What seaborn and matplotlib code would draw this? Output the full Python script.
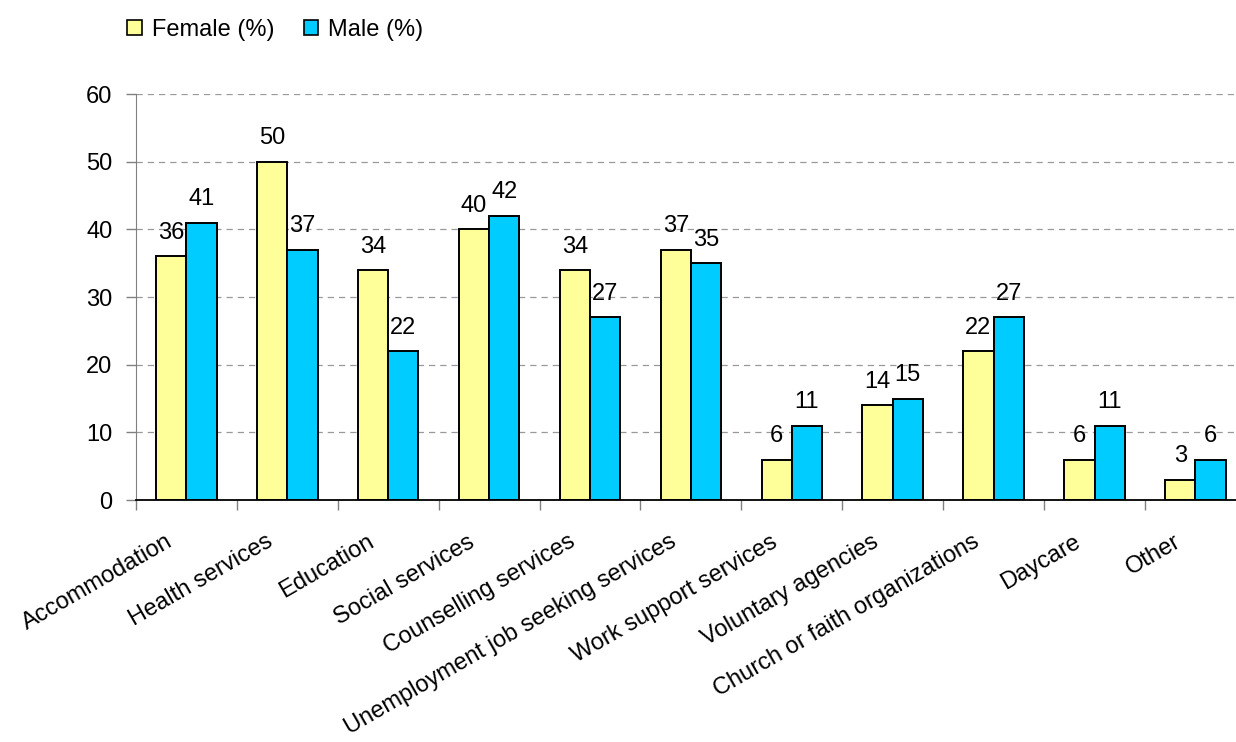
import matplotlib
matplotlib.use("Agg")
import matplotlib.pyplot as plt
from matplotlib.patches import Patch
from matplotlib.transforms import ScaledTranslation
import seaborn as sns
import pandas as pd
import numpy as np

categories = ["Accommodation", "Health services", "Education", "Social services",
              "Counselling services", "Unemployment job seeking services",
              "Work support services", "Voluntary agencies",
              "Church or faith organizations", "Daycare", "Other"]
female = [36, 50, 34, 40, 34, 37, 6, 14, 22, 6, 3]
male = [41, 37, 22, 42, 27, 35, 11, 15, 27, 11, 6]
series = ["Female (%)", "Male (%)"]
colors = ["#FFFF99", "#00CCFF"]
yticks = [0, 10, 20, 30, 40, 50, 60]

sns.set_style("white")
plt.rcParams["font.family"] = ["Liberation Sans", "DejaVu Sans"]
plt.rcParams["text.color"] = "black"
plt.rcParams["xtick.color"] = "black"
plt.rcParams["ytick.color"] = "black"

FS = 17

df = pd.DataFrame({
    "Category": categories * 2,
    "Value": female + male,
    "Series": [series[0]] * len(categories) + [series[1]] * len(categories),
})

fig = plt.figure(figsize=(12.36, 7.42), dpi=100)
ax = fig.add_axes([0.110, 0.326, 0.898, 0.5472])

sns.barplot(data=df, x="Category", y="Value", hue="Series", order=categories,
            hue_order=series, palette=colors, width=0.6, gap=0,
            edgecolor="black", linewidth=1.4, saturation=1, ax=ax, legend=False)

for cont in ax.containers:
    ax.bar_label(cont, fmt="%g", padding=9, fontsize=FS, color="black")

ax.set_ylim(0, 60)
ax.set_xlim(-0.5, len(categories) - 0.5)
ax.set_yticks(yticks)
ax.set_yticklabels([str(v) for v in yticks], fontsize=FS)
ax.tick_params(axis="y", direction="out", length=7, width=1, color="#808080",
               pad=10, left=True, labelcolor="black")
ax.set_axisbelow(True)
ax.yaxis.grid(True, linestyle=(0, (5, 4)), color="#999999", linewidth=0.9)
ax.xaxis.grid(False)

ax.set_xticks(range(len(categories)))
ax.set_xticklabels(categories, rotation=30, ha="right", va="center",
                   rotation_mode="anchor", fontsize=FS)
ax.tick_params(axis="x", length=0, pad=29, labelcolor="black")
shift = ScaledTranslation(-16 / 100, 0, fig.dpi_scale_trans)
for lab in ax.get_xticklabels():
    lab.set_transform(lab.get_transform() + shift)
ax.set_xticks(np.arange(-0.5, len(categories), 1.0), minor=True)
ax.tick_params(axis="x", which="minor", direction="out", length=7, width=1,
               color="#808080", bottom=True)

for s in ["top", "right"]:
    ax.spines[s].set_visible(False)
ax.spines["left"].set_color("#808080")
ax.spines["bottom"].set_color("black")
ax.spines["bottom"].set_linewidth(1.3)
ax.set_xlabel("")
ax.set_ylabel("")

handles = [Patch(facecolor=c, edgecolor="black", linewidth=1.2) for c in colors]
fig.legend(handles, series, loc="center left", bbox_to_anchor=(0.1028, 0.960), ncol=2,
           frameon=False, fontsize=FS, handlelength=0.62, handleheight=0.62,
           handletextpad=0.42, columnspacing=1.25, borderpad=0, borderaxespad=0)

fig.savefig("out.png", dpi=100)
